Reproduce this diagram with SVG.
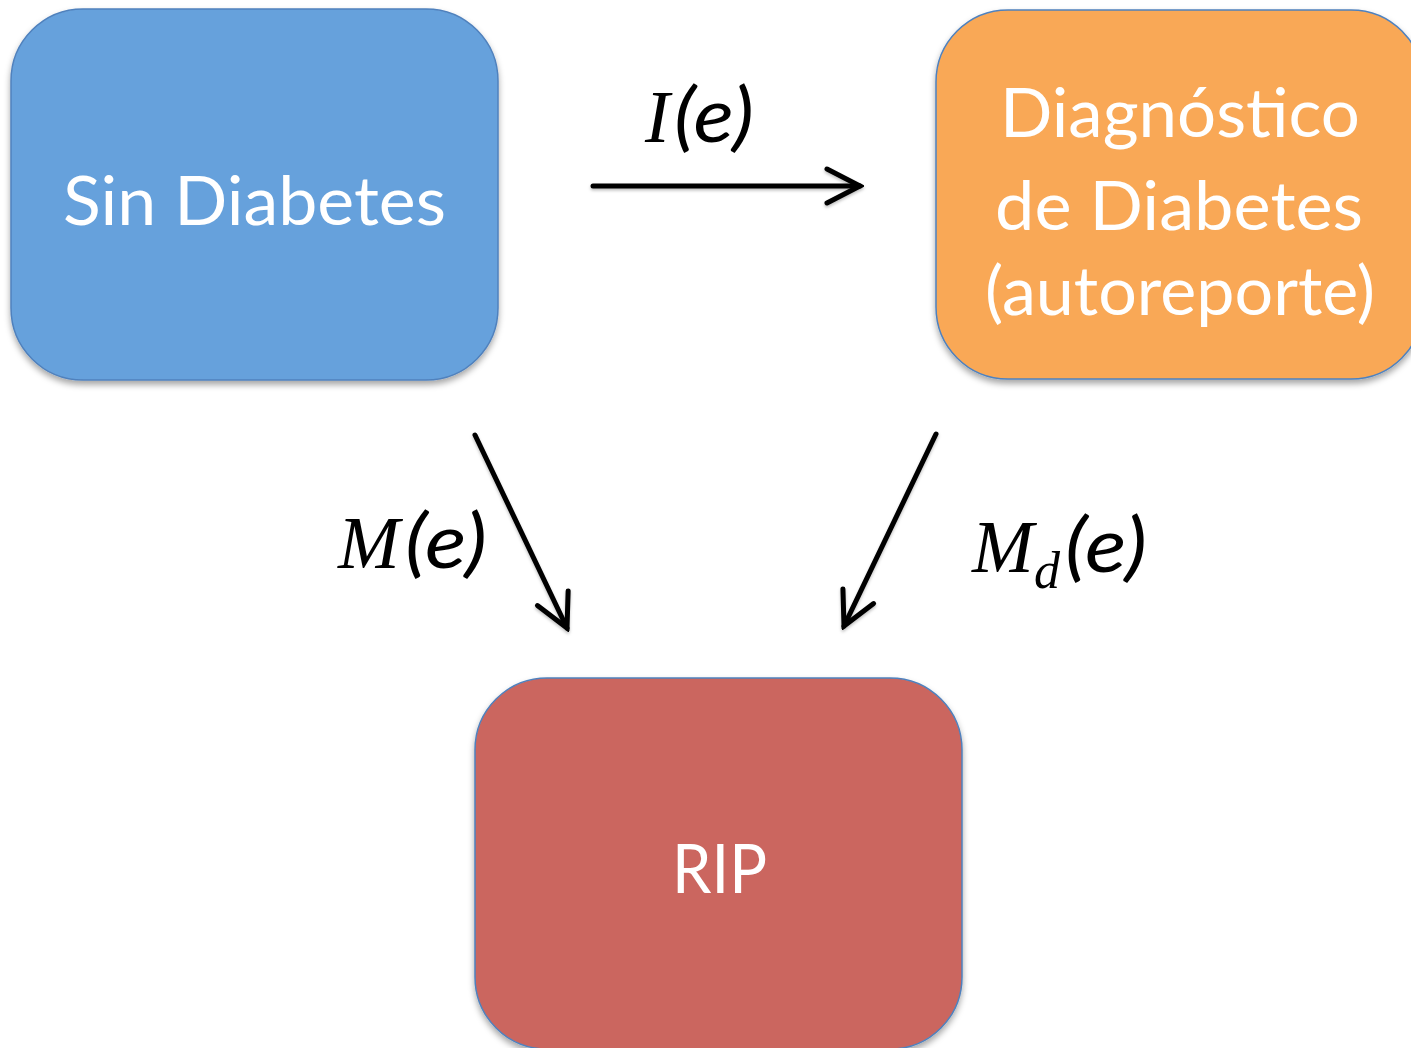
<svg xmlns="http://www.w3.org/2000/svg" width="1411" height="1048" viewBox="0 0 1411 1048">
  <defs>
    <filter id="shadow" x="-10%" y="-10%" width="120%" height="125%">
      <feDropShadow dx="0" dy="4" stdDeviation="3" flood-color="#000" flood-opacity="0.35"/>
    </filter>
    <filter id="lineShadow" filterUnits="userSpaceOnUse" x="0" y="0" width="1411" height="1048">
      <feDropShadow dx="0" dy="2" stdDeviation="1.5" flood-color="#000" flood-opacity="0.25"/>
    </filter>
    <marker id="chevron" markerUnits="userSpaceOnUse" viewBox="-40 -22 44 44" markerWidth="44" markerHeight="44" refX="0" refY="0" orient="auto">
      <path d="M-33,-17 L0,0 L-33,17" fill="none" stroke="#000" stroke-width="5" stroke-linecap="round" stroke-linejoin="miter"/>
    </marker>
    <style>
      .box { stroke: #4f81bd; stroke-width: 1.5; filter: url(#shadow); }
      .label { font-family: Lato, "Open Sans", "Liberation Sans", sans-serif; fill: #fff; text-anchor: middle; }
      .edge { fill: none; stroke: #000; stroke-width: 5; stroke-linecap: round; marker-end: url(#chevron); }
      .math { font-family: "Liberation Serif", "DejaVu Serif", serif; font-style: italic; fill: #000; }
      .paren { font-family: Lato, "Open Sans", "Liberation Sans", sans-serif; font-style: italic; fill: #000; }
    </style>
  </defs>

  <rect width="1411" height="1048" fill="#fff"/>

  <!-- states -->
  <g id="sin-diabetes">
    <rect class="box" x="11" y="9" width="487" height="371" rx="72" ry="72" fill="#66a1dc"/>
    <text class="label" x="254.5" y="225" font-size="68" textLength="383" lengthAdjust="spacingAndGlyphs">Sin Diabetes</text>
  </g>

  <g id="diagnostico">
    <rect class="box" x="936" y="10" width="487" height="369" rx="72" ry="72" fill="#f9a857"/>
    <text class="label" x="1180" y="137" font-size="68" textLength="360" lengthAdjust="spacingAndGlyphs">Diagnóstico</text>
    <text class="label" x="1179" y="230" font-size="68" textLength="368" lengthAdjust="spacingAndGlyphs">de Diabetes</text>
    <text class="label" x="1180" y="315" font-size="68" textLength="390" lengthAdjust="spacingAndGlyphs">(autoreporte)</text>
  </g>

  <g id="rip">
    <rect class="box" x="475" y="678" width="487" height="371" rx="72" ry="72" fill="#cb665f"/>
    <text class="label" x="719.5" y="893" font-size="68" textLength="95" lengthAdjust="spacingAndGlyphs">RIP</text>
  </g>

  <!-- transitions -->
  <g id="connectors" filter="url(#lineShadow)">
    <line class="edge" x1="593" y1="186" x2="860" y2="186"/>
    <line class="edge" x1="475" y1="435" x2="567" y2="628"/>
    <line class="edge" x1="936" y1="434" x2="844" y2="626"/>
  </g>

  <!-- transition rates -->
  <g id="rate-labels">
    <text class="math" x="645" y="142" font-size="74">I</text>
    <text class="paren" x="674" y="142" font-size="76" textLength="80" lengthAdjust="spacingAndGlyphs">(e)</text>

    <text class="math" x="338" y="568" font-size="74">M</text>
    <text class="paren" x="405" y="568" font-size="76" textLength="82" lengthAdjust="spacingAndGlyphs">(e)</text>

    <text class="math" x="972" y="572" font-size="74">M</text>
    <text class="math" x="1034" y="588" font-size="52">d</text>
    <text class="paren" x="1065" y="572" font-size="76" textLength="82" lengthAdjust="spacingAndGlyphs">(e)</text>
  </g>
</svg>
